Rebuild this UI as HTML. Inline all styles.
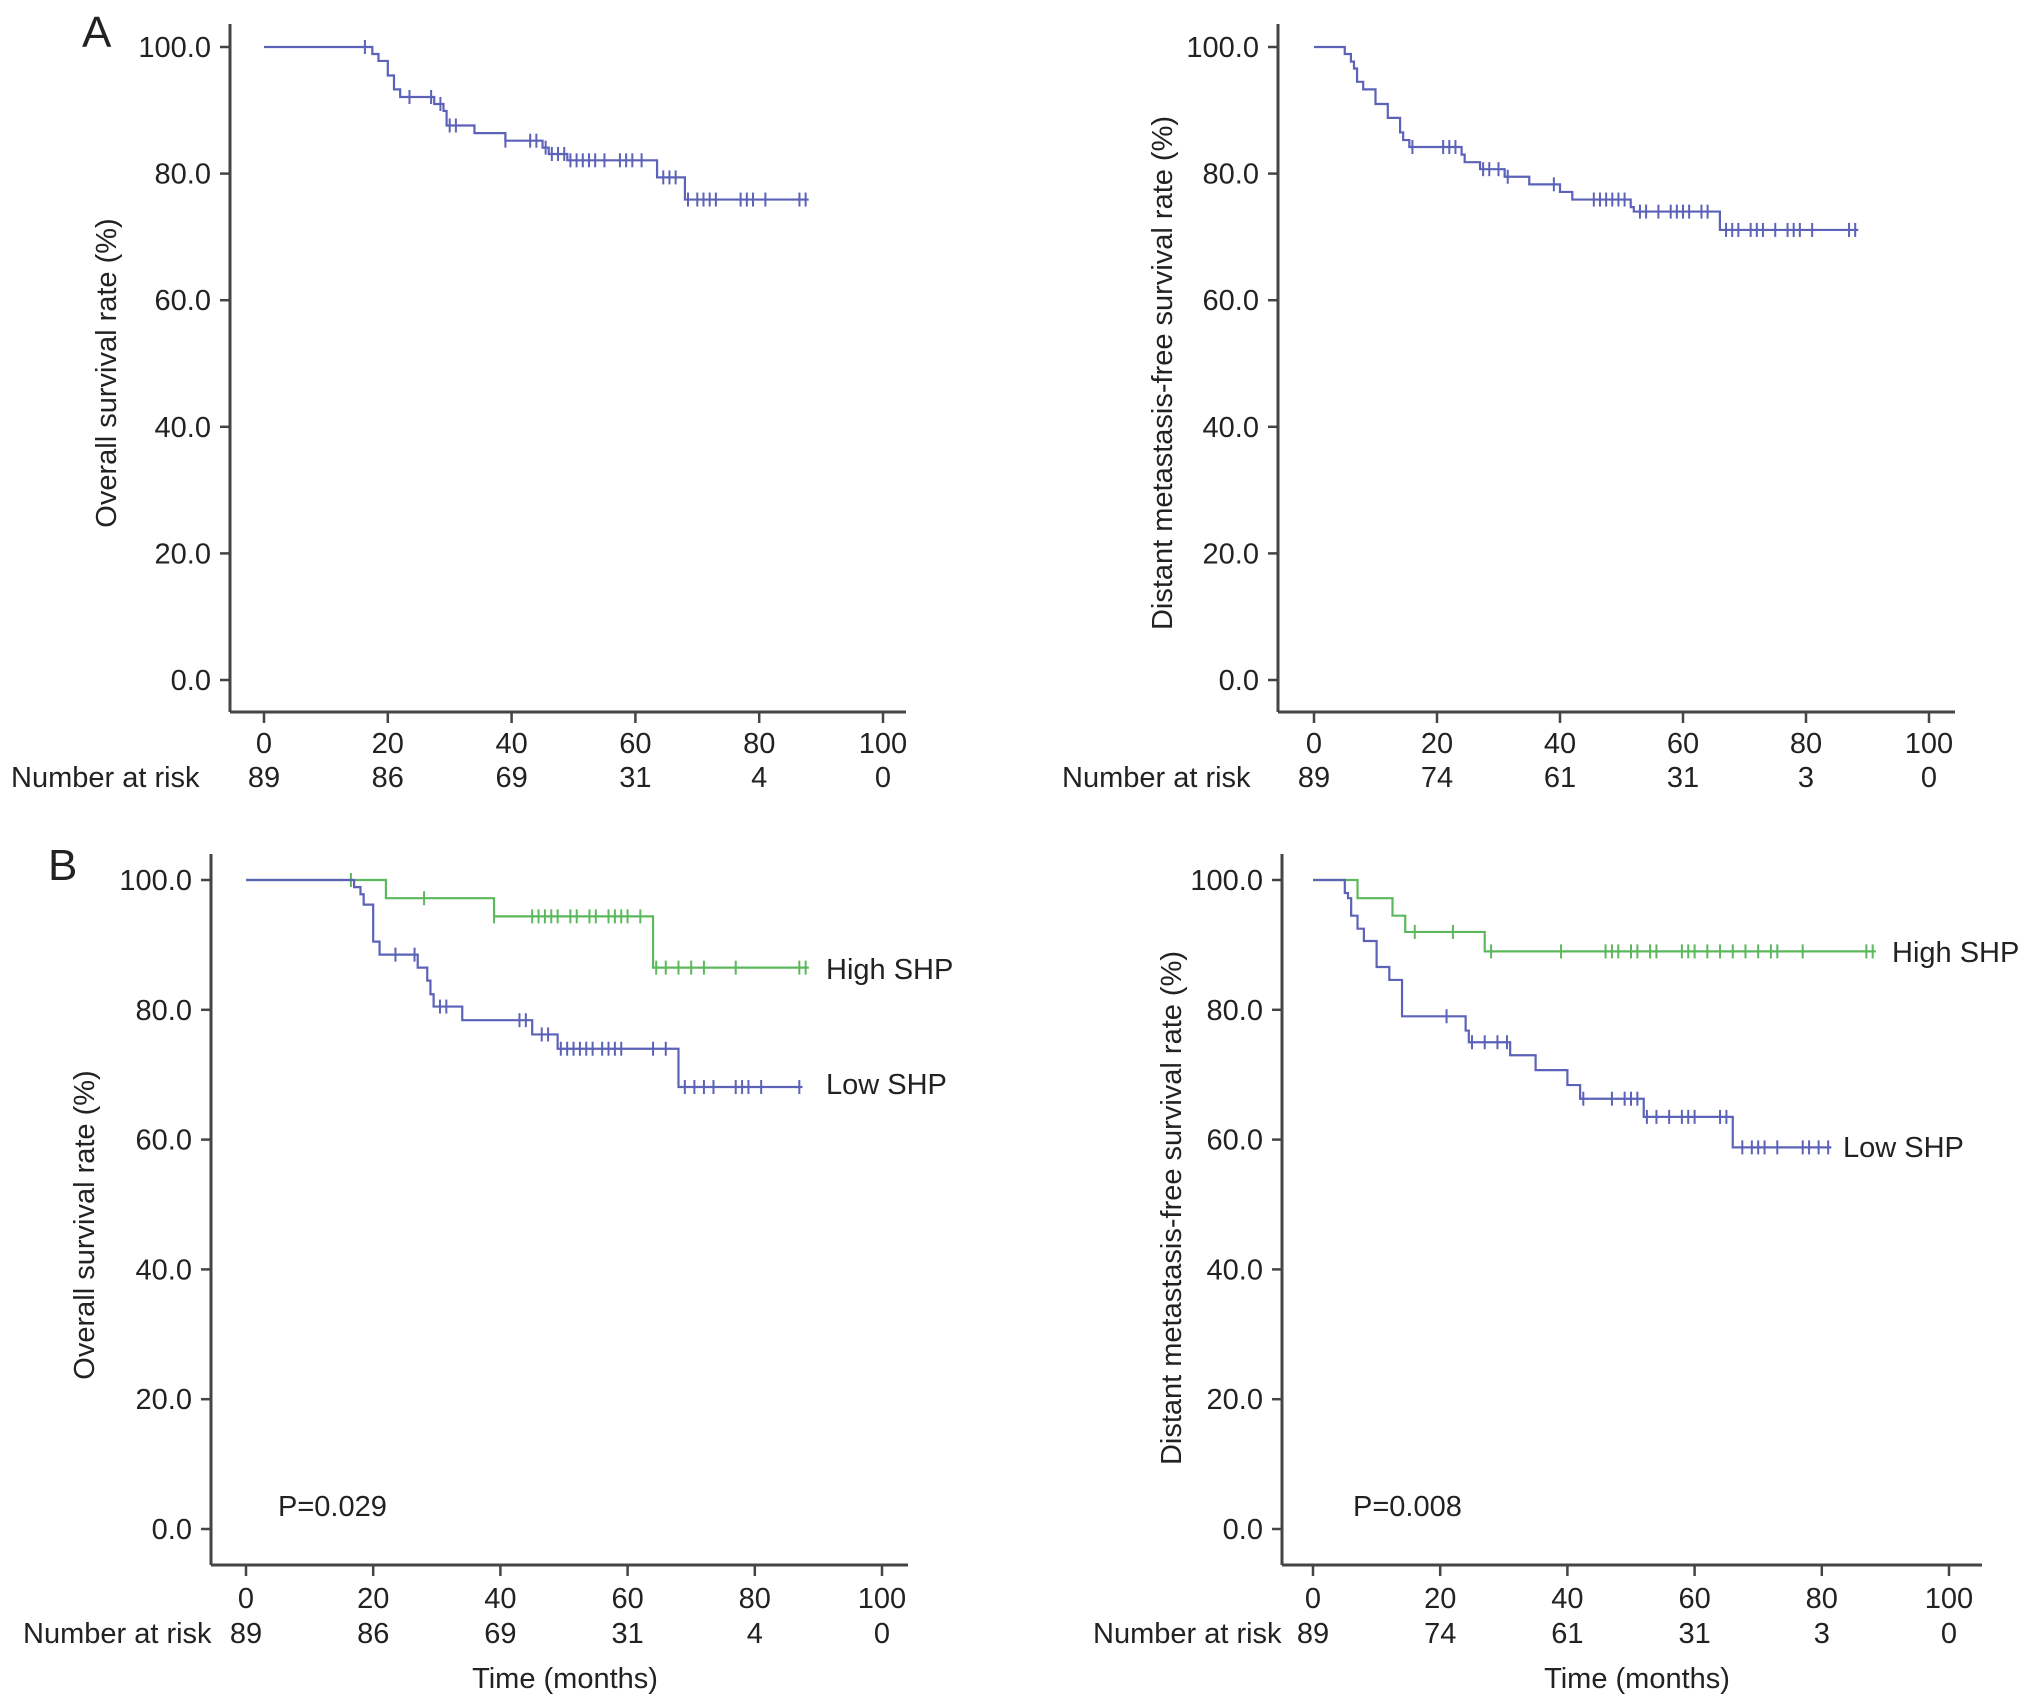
<!DOCTYPE html>
<html><head><meta charset="utf-8"><style>
html,body{margin:0;padding:0;background:#fff;}
svg{display:block;font-family:"Liberation Sans",Arial,sans-serif;}
</style></head><body>
<svg id="fig" width="2032" height="1707" viewBox="0 0 2032 1707" xmlns="http://www.w3.org/2000/svg"></svg>
<script>
// ---------- data ----------
const xTicks = [0,20,40,60,80,100];
const yTicks = [0,20,40,60,80,100];
const riskOS = [89,86,69,31,4,0];
const riskDM = [89,74,61,31,3,0];

// Panel A-left: overall survival (all)
const osAllSteps = [[17.5,98.9],[18.5,97.8],[20,95.5],[21,93.3],[22,92.1],[27.5,91.0],[29,89.9],[29.5,87.6],[34,86.4],[39,85.2],[45,84.1],[46,83.1],[49,82.1],[63.5,79.4],[68,75.9]];
const osAllCensor = [16.3,23.5,27,28.5,30,31,39,43,44,45.5,46.5,47.5,48.5,49.5,50.5,51.5,52.5,53.5,55,57.5,58.5,59.5,61,64.5,65.5,66.5,68.5,70,71,72,73,77,78,79,81,86.5,87.5];
const osAllEnd = 88;

// Panel A-right: DMFS (all)
const dmAllSteps = [[5,98.9],[6,97.7],[6.5,96.6],[7,94.5],[8,93.3],[10,91.0],[12,88.8],[14,86.5],[14.5,85.3],[15.5,84.2],[24,83.0],[24.5,81.8],[27,80.7],[31,79.5],[35,78.3],[40,77.1],[42,75.9],[51.5,74.7],[52,74.0],[66,71.1]];
const dmAllCensor = [16,21,22,23,27.5,28.5,30,31.5,39,45.5,46.5,47.5,48.5,49.5,50.5,53,54,56,58,59,60,61,63,64,67,68,69,71,72,73,75,77,78,79,81,87,88];
const dmAllEnd = 88.5;

// Panel B-left: OS by SHP
const osHighSteps = [[22,97.2],[39,94.4],[64,86.5]];
const osHighCensor = [16.5,28,39,45,46,47,48,49,51,52,54,55,57,58,59,60,62,64.5,66,68,70,72,77,87,88];
const osHighEnd = 88.5;
const osLowSteps = [[17,98.9],[18,97.8],[18.5,96.2],[20,90.5],[21,88.5],[27,86.5],[28.5,84.5],[29,82.4],[29.5,80.5],[34,78.4],[45,76.2],[49,74.0],[68,68.1]];
const osLowCensor = [23.5,26.5,30.5,31.5,43,44,46.5,47.5,49.5,50.5,51.5,52.5,53.5,54.5,56,57,58,59,64,66,69,70.5,72,73.5,77,78,79,81,87];
const osLowEnd = 87.5;

// Panel B-right: DMFS by SHP
const dmHighSteps = [[7,97.2],[12.5,94.5],[14.5,92.0],[27,89.0]];
const dmHighCensor = [16,22,28,39,46,47,48,50,51,53,54,58,59,60,62,64,66,68,70,72,73,77,87,88];
const dmHighEnd = 88.5;
const dmLowSteps = [[5,98.0],[5.5,97.2],[6,94.5],[7,92.5],[8,90.6],[10,86.6],[12,84.6],[14,79.0],[24,76.8],[24.5,75.0],[31,73.0],[35,70.7],[40,68.4],[42,66.3],[52,63.5],[66,58.8]];
const dmLowCensor = [21,25,27,29,30.5,42.5,47,49,50,51,52.5,54,56,58,59,60,64,65,67.5,69,70,71,73,77,78,79.5,81];
const dmLowEnd = 81.5;

// ---------- drawing ----------
const NS = "http://www.w3.org/2000/svg";
const svg = document.getElementById('fig');
const BLUE = "#5b62b8", GREEN = "#5cb85c", AX = "#444", TXT = "#222";
const FS = 29;

function mk(tag, attrs, parent){
  const e = document.createElementNS(NS, tag);
  for (const k in attrs) e.setAttribute(k, attrs[k]);
  (parent||svg).appendChild(e);
  return e;
}
function txt(s, x, y, size, anchor, parent, rot){
  const t = mk('text', {x:x, y:y, 'font-size':size, fill:TXT, 'text-anchor':anchor||'start'}, parent);
  if (rot) t.setAttribute('transform', 'rotate(-90 '+x+' '+y+')');
  t.textContent = s;
  return t;
}

function panel(cfg){
  const g = mk('g', {});
  
  
  const X = t => cfg.x0 + (cfg.x100 - cfg.x0) * t / 100;
  const Y = v => cfg.y0 + (cfg.y100 - cfg.y0) * v / 100;
  const ya = mk('line', {x1:cfg.ax, y1:cfg.top, x2:cfg.ax, y2:cfg.axY, stroke:AX, 'stroke-width':3}, g);
  
  
  const xa = mk('line', {x1:cfg.ax, y1:cfg.axY, x2:cfg.right, y2:cfg.axY, stroke:AX, 'stroke-width':3}, g);
  
  
  yTicks.forEach(v => {
    mk('line', {x1:cfg.ax-10, y1:Y(v), x2:cfg.ax, y2:Y(v), stroke:AX, 'stroke-width':2.5}, g);
    const t = txt(v.toFixed(1), cfg.ax-19, Y(v)+10, FS, 'end', g);
    
    
  });
  xTicks.forEach((v,i) => {
    mk('line', {x1:X(v), y1:cfg.axY, x2:X(v), y2:cfg.axY+11, stroke:AX, 'stroke-width':2.5}, g);
    const t = txt(String(v), X(v), cfg.tickBase, FS, 'middle', g);
    
    
    const r = txt(String(cfg.risk[i]), X(v), cfg.riskBase, FS, 'middle', g);
    
    
  });
  const nr = txt('Number at risk', cfg.nrX, cfg.riskBase, FS, 'start', g);
  
  
  const yl = txt(cfg.ylabel, cfg.ylX, cfg.ylY, FS, 'middle', g, true);
  
  
  if (cfg.xlabel){
    const xl = txt(cfg.xlabel, cfg.xlX, cfg.xlY, FS, 'middle', g);
    
    
  }
  if (cfg.p){
    const p = txt(cfg.p, cfg.pX, cfg.pY, FS, 'start', g);
    
    
  }
  if (cfg.letter){
    const l = txt(cfg.letter, cfg.lX, cfg.lY, 44, 'start', g);
    
    
  }
  cfg.series.forEach(s => {
    let d = 'M' + X(0) + ' ' + Y(100);
    s.steps.forEach(([t,v]) => { d += ' H' + X(t) + ' V' + Y(v); });
    d += ' H' + X(s.end);
    const path = mk('path', {d:d, fill:'none', stroke:s.color, 'stroke-width':2.2}, g);
    
    
    const survAt = t => { let v = 100; s.steps.forEach(([tt,vv]) => { if (tt <= t) v = vv; }); return v; };
    s.censor.forEach(t => {
      const cx = X(t), cy = Y(survAt(t));
      const m = mk('line', {x1:cx, y1:cy-7, x2:cx, y2:cy+7, stroke:s.color, 'stroke-width':2}, g);
      
      
    });
    if (s.label){
      const lb = txt(s.label, s.lx, s.ly, FS, 'start', g);
      
      
    }
  });
}

panel({name:'panel-a-overall-survival', ax:230, top:24, axY:712, right:906, x0:264, x100:883, y0:680, y100:47,
  tickBase:753, riskBase:787, risk:riskOS, nrX:11, ylabel:'Overall survival rate (%)', ylX:116, ylY:373,
  letter:'A', lX:82, lY:47,
  series:[{name:'overall', color:BLUE, steps:osAllSteps, censor:osAllCensor, end:osAllEnd}]});

panel({name:'panel-a-dmfs', ax:1278, top:24, axY:712, right:1955, x0:1314, x100:1929, y0:680, y100:47,
  tickBase:753, riskBase:787, risk:riskDM, nrX:1062, ylabel:'Distant metastasis-free survival rate (%)', ylX:1172, ylY:373,
  series:[{name:'dmfs', color:BLUE, steps:dmAllSteps, censor:dmAllCensor, end:dmAllEnd}]});

panel({name:'panel-b-overall-survival', ax:211, top:854, axY:1565, right:908, x0:246, x100:882, y0:1529, y100:880,
  tickBase:1608, riskBase:1643, risk:riskOS, nrX:23, ylabel:'Overall survival rate (%)', ylX:94, ylY:1225,
  xlabel:'Time (months)', xlX:565, xlY:1688, p:'P=0.029', pX:278, pY:1516,
  letter:'B', lX:48, lY:880,
  series:[{name:'high-shp', color:GREEN, steps:osHighSteps, censor:osHighCensor, end:osHighEnd, label:'High SHP', lx:826, ly:979},
          {name:'low-shp', color:BLUE, steps:osLowSteps, censor:osLowCensor, end:osLowEnd, label:'Low SHP', lx:826, ly:1094}]});

panel({name:'panel-b-dmfs', ax:1282, top:854, axY:1565, right:1982, x0:1313, x100:1949, y0:1529, y100:880,
  tickBase:1608, riskBase:1643, risk:riskDM, nrX:1093, ylabel:'Distant metastasis-free survival rate (%)', ylX:1181, ylY:1208,
  xlabel:'Time (months)', xlX:1637, xlY:1688, p:'P=0.008', pX:1353, pY:1516,
  series:[{name:'high-shp', color:GREEN, steps:dmHighSteps, censor:dmHighCensor, end:dmHighEnd, label:'High SHP', lx:1892, ly:962},
          {name:'low-shp', color:BLUE, steps:dmLowSteps, censor:dmLowCensor, end:dmLowEnd, label:'Low SHP', lx:1843, ly:1157}]});
</script>
</body></html>
